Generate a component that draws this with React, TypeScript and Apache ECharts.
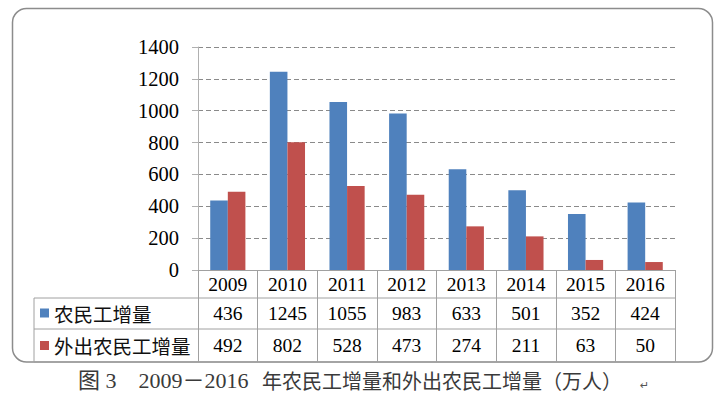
import React, { useEffect, useRef } from "react";
import * as echarts from "echarts";

const years = ["2009", "2010", "2011", "2012", "2013", "2014", "2015", "2016"];
const ruralIncrease = [436, 1245, 1055, 983, 633, 501, 352, 424];
const migrantIncrease = [492, 802, 528, 473, 274, 211, 63, 50];
const seriesNames = ["农民工增量", "外出农民工增量"];
const yTicks = { min: 0, max: 1400, interval: 200 };
const captionHead = "图 3　2009－2016";
const captionTail = "年农民工增量和外出农民工增量（万人）";

const BLUE = "#4F81BD";
const RED = "#C0504D";
const LINE = "#a0a0a0";
const SERIF = "'Liberation Serif', 'Times New Roman', serif";
const CJK = "'Noto Sans CJK SC', sans-serif";

export default function App() {
  const ref = useRef<HTMLDivElement>(null);
  useEffect(() => {
    if (!ref.current) return;
    const chart = echarts.init(ref.current, undefined, { renderer: "svg" });
    const gridLeft = 198;
    const gridRight = 675;
    const axisY = 270;
    chart.setOption({
      animation: false,
      backgroundColor: "#fff",
      grid: { left: gridLeft, right: 720 - gridRight, top: 47, bottom: 394 - axisY },
      legend: [
        {
          data: [seriesNames[0]],
          left: 40,
          top: 303,
          padding: 0,
          icon: "rect",
          itemWidth: 9,
          itemHeight: 9,
          selectedMode: false,
          textStyle: { fontFamily: CJK, fontSize: 19.5, color: "#111", lineHeight: 20 },
        },
        {
          data: [seriesNames[1]],
          left: 40,
          top: 335.5,
          padding: 0,
          icon: "rect",
          itemWidth: 9,
          itemHeight: 9,
          selectedMode: false,
          textStyle: { fontFamily: CJK, fontSize: 19.5, color: "#111", lineHeight: 20 },
        },
      ],
      xAxis: {
        type: "category",
        data: years,
        boundaryGap: true,
        axisLine: { show: true, lineStyle: { color: LINE, width: 1 } },
        axisTick: { show: true, length: 92, alignWithLabel: false, lineStyle: { color: LINE, width: 1 } },
        axisLabel: {
          interval: 0,
          margin: 0,
          formatter: (value: string, idx: number) =>
            `{a|${value}}\n{b|${ruralIncrease[idx]}}\n{c|${migrantIncrease[idx]}}`,
          rich: {
            a: { fontFamily: SERIF, fontSize: 19.5, color: "#000", lineHeight: 28, align: "center" },
            b: { fontFamily: SERIF, fontSize: 19.5, color: "#000", lineHeight: 31, align: "center" },
            c: { fontFamily: SERIF, fontSize: 19.5, color: "#000", lineHeight: 33, align: "center" },
          },
        },
      },
      yAxis: {
        type: "value",
        min: yTicks.min,
        max: yTicks.max,
        interval: yTicks.interval,
        axisLine: { show: true, lineStyle: { color: "#b0b0b0", width: 1 } },
        axisTick: { show: true, length: 6, lineStyle: { color: "#b0b0b0" } },
        axisLabel: {
          fontFamily: SERIF,
          fontSize: 20.5,
          color: "#000",
          margin: 19,
          formatter: (v: number) => String(v),
        },
        splitLine: { show: true, lineStyle: { color: "#8a8a8a", type: [5, 3], width: 1 } },
      },
      series: [
        {
          name: seriesNames[0],
          type: "bar",
          data: ruralIncrease,
          itemStyle: { color: BLUE },
          barGap: "0%",
          barCategoryGap: "41%",
        },
        {
          name: seriesNames[1],
          type: "bar",
          data: migrantIncrease,
          itemStyle: { color: RED },
          barGap: "0%",
          barCategoryGap: "41%",
        },
      ],
      graphic: [
        {
          type: "rect",
          shape: { x: 12.5, y: 8.5, width: 700, height: 353.5, r: 14 },
          style: { fill: "none", stroke: "#8c8c8c", lineWidth: 1.5 },
          silent: true,
        },
        { type: "line", shape: { x1: 34, y1: 298, x2: gridRight, y2: 298 }, style: { stroke: LINE, lineWidth: 1 } },
        { type: "line", shape: { x1: 34, y1: 329, x2: gridRight, y2: 329 }, style: { stroke: LINE, lineWidth: 1 } },
        { type: "line", shape: { x1: 34, y1: 362, x2: gridRight, y2: 362 }, style: { stroke: LINE, lineWidth: 1 } },
        { type: "line", shape: { x1: 34, y1: 298, x2: 34, y2: 362 }, style: { stroke: LINE, lineWidth: 1 } },
        {
          type: "text",
          x: 78,
          y: 380,
          style: {
            text: captionHead,
            fontFamily: "'Liberation Serif', 'Noto Sans CJK SC', serif",
            fontSize: 22,
            lineHeight: 22,
            fill: "#3a3a3a",
            verticalAlign: "middle",
          },
        },
        {
          type: "text",
          x: 262,
          y: 380,
          style: {
            text: captionTail,
            fontFamily: "'Noto Sans CJK SC', sans-serif",
            fontSize: 20,
            lineHeight: 22,
            fill: "#3a3a3a",
            verticalAlign: "middle",
          },
        },
        {
          type: "text",
          x: 640,
          y: 385,
          style: { text: "↵", fontFamily: "'DejaVu Sans', sans-serif", fontSize: 11, lineHeight: 12, fill: "#555", verticalAlign: "middle" },
        },
      ],
    });
    return () => chart.dispose();
  }, []);
  return (
    <div
      ref={ref}
      style={{ position: "absolute", left: 0, top: 0, width: 720, height: 394, background: "#fff" }}
    />
  );
}
